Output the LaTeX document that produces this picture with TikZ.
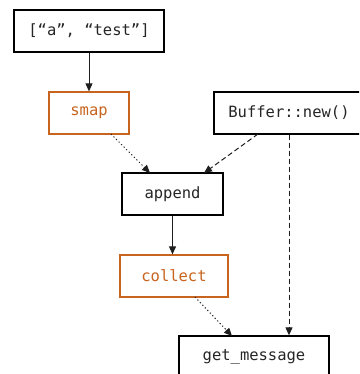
\documentclass[tikz,border=0pt]{standalone}
\usepackage{fontspec}
\setmonofont{DejaVu Sans Mono}
\usetikzlibrary{arrows.meta}
\definecolor{orng}{RGB}{200,100,30}
\definecolor{lnk}{RGB}{30,30,30}
\tikzset{
  box/.style={draw=black, line width=1.3pt, fill=white, minimum height=42pt, inner sep=0pt,
    font=\fontsize{15.5pt}{18pt}\ttfamily, text=black!85},
  obox/.style={box, draw=orng, text=orng},
  conn/.style={draw=lnk, line width=1pt, -{Triangle[length=8pt,width=7pt]}},
  dsh/.style={dash pattern=on 5pt off 3pt},
  dts/.style={dash pattern=on 1.2pt off 2.4pt},
}
\begin{document}
\begin{tikzpicture}[x=1pt,y=-1pt]
\useasboundingbox (0,0) rectangle (359,374);
\clip (0,0) rectangle (359,374);
\fill[white] (0,0) rectangle (359,374);
\node[box, minimum width=150pt] (arr) at (89,31) {[“a”, “test”]};
\node[obox, minimum width=80pt] (smap) at (89,113) {smap};
\node[box, minimum width=150pt] (buf) at (289,113) {Buffer::new()};
\node[box, minimum width=101pt] (app) at (172.5,194) {append};
\node[obox, minimum width=108pt] (col) at (174,276) {collect};
\node[box, minimum width=150pt] (get) at (254,357) {get\_message};
\coordinate (smapS) at (111,134);
\coordinate (appNW) at (150,173);
\coordinate (bufSW) at (258,134);
\coordinate (appNE) at (204,173);
\coordinate (colS) at (195,297);
\coordinate (getNW) at (232,336);
\draw[conn] (arr.south) -- (smap.north);
\draw[conn, dts] (smapS) -- (appNW);
\draw[conn, dsh] (bufSW) -- (appNE);
\draw[conn, dsh] (buf.south) -- (buf.south |- get.north);
\draw[conn] (app.south) -- (app.south |- col.north);
\draw[conn, dts] (colS) -- (getNW);
\end{tikzpicture}
\end{document}
